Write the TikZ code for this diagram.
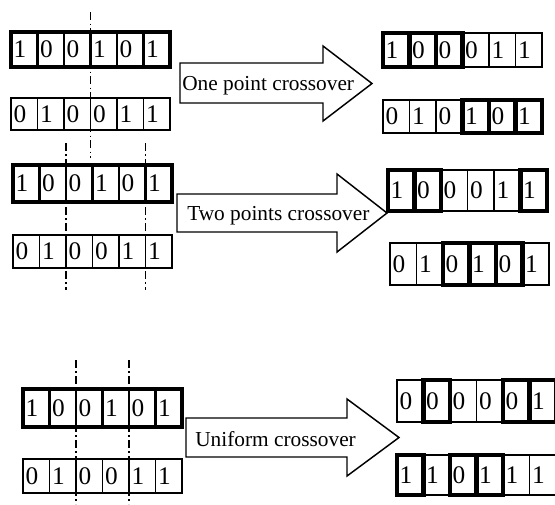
\documentclass[tikz,border=0pt]{standalone}
\usepackage{fontspec}
\setmainfont{Liberation Serif}

\tikzset{
  cell/.style={draw, line width=1pt, outer sep=0pt, inner xsep=2pt, inner ysep=0pt,
    text width=15.9pt, align=flush left, font=\fontsize{19}{21}\selectfont},
  lt/.style={},
  md/.style={line width=1.5pt},
  hv/.style={line width=3.4pt},
  frame/.style={draw, line width=3.2pt},
  midframe/.style={draw, line width=1.8pt},
  cut/.style={line width=1.2pt, dash pattern=on 6pt off 2.5pt on 1pt off 2.5pt},
  bigarrow/.style={draw, line width=1.1pt, line join=miter},
  arrowtext/.style={font=\fontsize{16}{18}\selectfont, inner sep=0pt, anchor=base west}
}

% one chromosome: name, x of left edge, y of middle, height, bit/style list
\newcommand{\chromosome}[5]{%
  \foreach \b/\s [count=\i] in {#5}
    \node[cell,\s,minimum height=#4] (#1\i) at ({#2+(\i-0.5)*26.5},#3) {\b};
}

\begin{document}
\begin{tikzpicture}[x=0.75pt,y=-0.75pt]
\useasboundingbox (0,0) rectangle (555,504);

% one point crossover
\chromosome{oa}{11}{49.5}{26pt}{1/md,0/md,0/md,1/md,0/md,1/md}
\chromosome{ob}{11}{114}{24pt}{0/lt,1/lt,0/lt,0/lt,1/lt,1/lt}
\draw[frame] (oa1.north west) rectangle (oa6.south east);
\path (oa3.north east) ++(0,-20) coordinate (onetop);
\path (ob3.south east) ++(0,28) coordinate (onebot);
\draw[cut] (onetop) -- (onebot);

\draw[bigarrow] (180,63) -- (323,63) -- (323,46) -- (372,83.5) -- (323,121) -- (323,103) -- (180,103) -- cycle;
\node[arrowtext] (onelabel) at (182,90) {One point crossover};

\chromosome{oc}{383}{50}{25.5pt}{1/hv,0/hv,0/hv,0/lt,1/lt,1/lt}
\chromosome{od}{383}{116.5}{24.75pt}{0/lt,1/lt,0/lt,1/hv,0/hv,1/hv}

% two points crossover
\chromosome{ta}{13}{183.5}{27.75pt}{1/md,0/md,0/md,1/md,0/md,1/md}
\chromosome{tb}{13}{251.5}{24.75pt}{0/lt,1/lt,0/lt,0/lt,1/lt,1/lt}
\draw[frame] (ta1.north west) rectangle (ta6.south east);
\draw[midframe] (tb1.north west) rectangle (tb6.south east);
\path (ta2.north east) ++(0,-22) coordinate (twotopa);
\path (tb2.south east) ++(0,22) coordinate (twobota);
\path (ta5.north east) ++(0,-22) coordinate (twotopb);
\path (tb5.south east) ++(0,22) coordinate (twobotb);
\draw[cut] (twotopa) -- (twobota);
\draw[cut] (twotopb) -- (twobotb);

\draw[bigarrow] (177,194) -- (337,194) -- (337,174) -- (387,213) -- (337,252) -- (337,232) -- (177,232) -- cycle;
\node[arrowtext] (twolabel) at (187,220.5) {Two points crossover};

\chromosome{tc}{388}{190.5}{30.75pt}{1/hv,0/hv,0/lt,0/lt,1/lt,1/hv}
\chromosome{td}{390}{264}{31.5pt}{0/lt,1/lt,0/hv,1/hv,0/hv,1/lt}

% uniform crossover
\chromosome{ua}{23}{408}{28.5pt}{1/md,0/md,0/md,1/md,0/md,1/md}
\chromosome{ub}{23}{476}{25.5pt}{0/lt,1/lt,0/lt,0/lt,1/lt,1/lt}
\draw[frame] (ua1.north west) rectangle (ua6.south east);
\draw[midframe] (ub1.north west) rectangle (ub6.south east);
\path (ua2.north east) ++(0,-29) coordinate (unitopa);
\path (ub2.south east) ++(0,11) coordinate (unibota);
\path (ua4.north east) ++(0,-29) coordinate (unitopb);
\path (ub4.south east) ++(0,11) coordinate (unibotb);
\draw[cut] (unitopa) -- (unibota);
\draw[cut] (unitopb) -- (unibotb);

\draw[bigarrow] (186,418) -- (347,418) -- (347,399) -- (399,437.5) -- (347,476) -- (347,457) -- (186,457) -- cycle;
\node[arrowtext] (unilabel) at (195,446) {Uniform crossover};

\chromosome{uc}{397}{401}{31.5pt}{0/lt,0/hv,0/lt,0/lt,0/hv,1/hv}
\chromosome{ud}{397}{475}{30pt}{1/hv,1/lt,0/hv,1/hv,1/lt,1/lt}

\end{tikzpicture}
\end{document}
